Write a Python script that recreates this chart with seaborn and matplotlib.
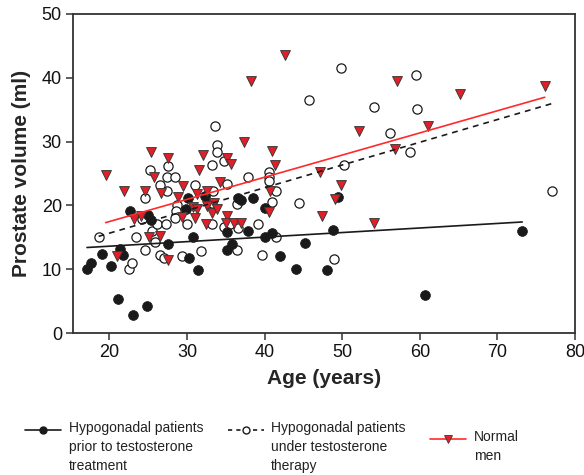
import numpy as np
import pandas as pd
import matplotlib
matplotlib.use("Agg")
import matplotlib.pyplot as plt
import seaborn as sns
from matplotlib.lines import Line2D

# Hypogonadal patients prior to testosterone treatment
age_prior = [17.1, 17.6, 19.0, 20.2, 21.3, 21.8, 21.1, 23.0, 24.9, 22.6, 25.0, 25.4,
             27.5, 30.1, 29.8, 30.8, 30.2, 31.4, 32.3, 35.1, 35.1, 35.8, 36.6, 37.0,
             37.9, 38.5, 40.0, 40.0, 40.9, 42.0, 44.1, 45.2, 48.05, 48.8, 49.5, 60.7, 73.2]
vol_prior = [10.0, 10.9, 12.4, 10.5, 13.2, 12.2, 5.4, 2.8, 4.25, 19.2, 18.5, 17.7,
             14.0, 21.2, 19.5, 15.1, 11.8, 9.8, 21.4, 15.9, 13.0, 14.0, 21.1, 20.8,
             16.05, 21.1, 19.6, 15.05, 15.6, 12.1, 10.05, 14.1, 9.8, 16.1, 21.3, 6.0, 16.05]

# Hypogonadal patients under testosterone therapy
age_therapy = [45.7, 33.6, 33.8, 33.9, 34.7, 33.2, 27.6, 25.2, 27.4, 28.5, 37.9, 40.6,
               40.6, 49.9, 59.5, 54.1, 59.6, 56.2, 58.7, 50.2, 77.0, 48.9, 44.4, 18.6,
               23.4, 22.5, 22.9, 24.6, 24.6, 24.2, 25.9, 25.5, 26.1, 26.5, 27.0, 26.5,
               27.4, 27.3, 28.7, 28.6, 28.4, 29.3, 30.0, 31.0, 31.8, 33.2, 33.25, 33.4,
               34.8, 35.2, 35.5, 36.5, 36.4, 39.2, 39.6, 40.5, 40.9, 41.5, 41.5, 36.6]
vol_therapy = [36.5, 32.4, 29.4, 28.3, 27.0, 26.3, 26.2, 25.5, 24.4, 24.4, 24.4, 25.2,
               24.4, 41.6, 40.5, 35.5, 35.1, 31.4, 28.4, 26.4, 22.2, 11.6, 20.4, 15.0,
               15.0, 10.0, 10.95, 13.0, 21.1, 17.9, 14.2, 16.0, 17.1, 12.3, 11.7, 23.2,
               22.2, 17.1, 20.05, 19.1, 18.0, 12.0, 17.1, 23.2, 12.9, 20.3, 17.1, 22.2,
               16.6, 23.4, 17.1, 20.2, 13.0, 17.1, 12.3, 23.8, 20.5, 22.2, 15.05, 16.5]

# Normal men
age_normal = [42.6, 38.3, 37.4, 40.9, 25.3, 27.5, 32.1, 35.1, 35.7, 41.3, 31.5, 19.5,
              25.7, 47.1, 57.0, 76.1, 65.2, 52.2, 61.1, 56.8, 49.9, 49.1, 47.4, 54.1,
              21.9, 24.6, 26.6, 28.8, 29.5, 31.3, 32.6, 33.5, 34.3, 30.8, 31.3, 32.6,
              33.2, 33.8, 29.3, 31.0, 23.2, 24.05, 32.5, 35.1, 35.05, 36.1, 36.9, 40.7,
              40.6, 25.1, 26.5, 21.0, 27.5]
vol_normal = [43.6, 39.5, 29.9, 28.5, 28.4, 27.4, 27.85, 27.4, 26.5, 26.3, 25.5, 24.8,
              24.4, 25.2, 39.5, 38.75, 37.5, 31.7, 32.4, 28.8, 23.2, 20.95, 18.3, 17.3,
              22.2, 22.2, 21.9, 21.3, 23.05, 21.8, 22.2, 20.4, 23.6, 19.8, 19.5, 19.9,
              18.85, 19.4, 18.2, 18.05, 17.8, 18.3, 17.15, 18.3, 17.3, 17.3, 17.3, 22.2,
              18.9, 15.05, 15.15, 12.0, 11.5]

# Regression lines (end points)
trend_prior_x = [17.1, 73.2]
trend_prior_y = [13.4, 17.4]
trend_therapy_x = [18.6, 77.0]
trend_therapy_y = [15.15, 35.95]
trend_normal_x = [19.5, 76.1]
trend_normal_y = [17.3, 36.95]

x_ticks = [20, 30, 40, 50, 60, 70, 80]
y_ticks = [0, 10, 20, 30, 40, 50]

labels = ["Hypogonadal patients\nprior to testosterone\ntreatment",
          "Hypogonadal patients\nunder testosterone\ntherapy",
          "Normal\nmen"]

sns.set_theme(style="ticks")
plt.rcParams['font.family'] = ['Liberation Sans', 'DejaVu Sans']

RED_FILL = "#e41e26"
RED_LINE = "#ff2a2a"
DARK = "#1a1a1a"

fig = plt.figure(figsize=(5.84, 4.75), dpi=100)
ax = fig.add_axes([73 / 584, 1 - 333 / 475, 502 / 584, 319 / 475])

sns.scatterplot(x=age_therapy, y=vol_therapy, ax=ax, marker="o", s=44,
                facecolor="white", edgecolor=DARK, linewidth=0.9, zorder=3)
sns.scatterplot(x=age_prior, y=vol_prior, ax=ax, marker="o", s=50,
                color=DARK, edgecolor=DARK, linewidth=0.5, zorder=4)
sns.scatterplot(x=age_normal, y=vol_normal, ax=ax, marker="v", s=50,
                color=RED_FILL, edgecolor="#3a3a3a", linewidth=0.7, zorder=5)

sns.lineplot(x=trend_prior_x, y=trend_prior_y, ax=ax, color=DARK, linewidth=1.2, zorder=6)
sns.lineplot(x=trend_therapy_x, y=trend_therapy_y, ax=ax, color=DARK, linewidth=1.2,
             linestyle=(0, (3.5, 3)), zorder=6)
sns.lineplot(x=trend_normal_x, y=trend_normal_y, ax=ax, color=RED_LINE, linewidth=1.2, zorder=6)

ax.set_xlim(15.3, 80)
ax.set_ylim(0, 50)
ax.set_xticks(x_ticks)
ax.set_yticks(y_ticks)
ax.tick_params(axis="both", direction="out", length=5, width=1.1, color="#333333",
               labelsize=13, labelcolor="#111111", pad=3)
for sp in ax.spines.values():
    sp.set_visible(True)
    sp.set_color("#333333")
    sp.set_linewidth(1.3)
ax.set_xlabel("Age (years)", fontsize=15, fontweight="bold", labelpad=6)
ax.set_ylabel("Prostate volume (ml)", fontsize=15, fontweight="bold", labelpad=8)

handles = [
    Line2D([], [], color=DARK, linewidth=1.2, marker="o", markersize=5,
           markerfacecolor=DARK, markeredgecolor=DARK),
    Line2D([], [], color=DARK, linewidth=1.2, linestyle=(0, (2.5, 2.5)), marker="o",
           markersize=5, markerfacecolor="white", markeredgecolor=DARK),
    Line2D([], [], color=RED_LINE, linewidth=1.2, marker="v", markersize=5.5,
           markerfacecolor=RED_FILL, markeredgecolor="#3a3a3a", markeredgewidth=0.6),
]
leg = fig.legend(handles, labels, loc="upper left", bbox_to_anchor=(25 / 584, 1 - 421 / 475),
                 ncol=3, frameon=False, fontsize=10, handlelength=2.6, handletextpad=0.55,
                 columnspacing=1.75, borderpad=0, borderaxespad=0)
for t in leg.get_texts():
    t.set_linespacing(1.45)
    t.set_color("#222222")

# put each legend symbol level with the first line of its label
fig.canvas.draw()
for t, h in zip(leg.get_texts(), leg.legend_handles):
    n = t.get_text().count("\n") + 1
    bb = t.get_window_extent()
    shift_pts = bb.height * (n - 1) / (2 * n) * 72 / fig.dpi
    h.set_ydata(np.asarray(h.get_ydata(), dtype=float) + shift_pts)

fig.savefig("out.png", dpi=100)
